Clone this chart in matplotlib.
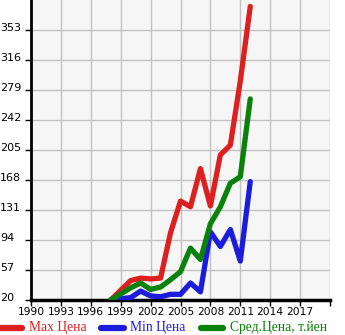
import matplotlib
matplotlib.use('Agg')
import matplotlib.pyplot as plt
from matplotlib.lines import Line2D
from matplotlib.transforms import blended_transform_factory

# Цены по годам выпуска (тыс. иен)
years = [1998, 2000, 2001, 2002, 2003, 2004, 2005, 2006, 2007, 2008, 2009, 2010, 2011, 2012]
max_price = [20, 44, 47, 46, 47, 103, 142, 135, 182, 136, 199, 211, 290, 382]
min_price = [20, 23, 31, 25, 24, 27, 27, 41, 30, 104, 86, 107, 68, 166]
avg_price = [20, 35, 41, 33, 36, 45, 55, 84, 70, 114, 135, 164, 172, 268]

y_ticks = [20, 57, 94, 131, 168, 205, 242, 279, 316, 353]
x_ticks = list(range(1990, 2021, 3))

RED = '#dd1f1f'
BLUE = '#1c1cdc'
GREEN = '#0a820a'

W, H = 345, 335
fig = plt.figure(figsize=(W / 100, H / 100), dpi=100)
ax = fig.add_axes([31 / W, 35 / H, 299 / W, 300 / H])
ax.set_facecolor('#f6f6f6')

lw = 3.8
series = [(max_price, RED, 'Max Цена'),
          (min_price, BLUE, 'Min Цена'),
          (avg_price, GREEN, 'Сред.Цена, т.йен')]
for vals, col, name in series:
    ax.plot(years, vals, color=col, lw=lw, solid_capstyle='round', label=name, zorder=3)

ax.set_xlim(1990, 2020)
ax.set_ylim(20, 390)
ax.set_xticks(x_ticks)
ax.set_xticklabels([str(y) if y < 2020 else '' for y in x_ticks])
ax.set_yticks(y_ticks)
ax.set_yticklabels([])
ax.grid(True, color='#c2c2c2', lw=1)
ax.set_axisbelow(True)

for side in ['top', 'right']:
    ax.spines[side].set_visible(False)
ax.spines['left'].set_linewidth(2)
ax.spines['bottom'].set_linewidth(2.5)
ax.tick_params(axis='both', labelsize=7.7, length=4, width=1, direction='out', pad=1)

# подписи оси Y прижаты к левому краю, чуть выше линий сетки
trans = blended_transform_factory(fig.transFigure, ax.transData)
for v in y_ticks:
    ax.text(0, v + 2.5, str(v), transform=trans, ha='left', va='center', fontsize=8, clip_on=False)

# легенда внизу
ly = (H - 328) / H
entries = [(0, 22, 29), (101, 124, 130), (201, 223, 230)]
for (x0, x1, xt), (vals, col, name) in zip(entries, series):
    fig.add_artist(Line2D([x0 / W, x1 / W], [ly, ly], color=col, lw=4.5,
                          solid_capstyle='round', transform=fig.transFigure))
    fig.text(xt / W, ly, name, color=col, ha='left', va='center',
             family='Liberation Serif', fontsize=9.8)

fig.savefig('out.png', dpi=100)
